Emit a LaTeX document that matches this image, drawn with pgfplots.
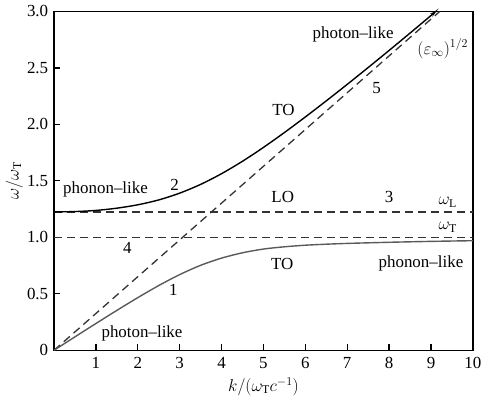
\documentclass[border=0pt]{standalone}
\usepackage{fontspec}
\setmainfont{Liberation Serif}
\usepackage{pgfplots}
\pgfplotsset{compat=1.18}
\usetikzlibrary{arrows.meta}
\definecolor{lowgrey}{HTML}{5A5A5A}
\definecolor{dashgrey}{HTML}{333333}
\pgfplotstableread{
k w
0 0
0.5 0.119
1 0.237
1.5 0.353
2 0.466
2.5 0.573
3 0.670
3.5 0.752
4 0.816
4.5 0.863
5 0.896
5.5 0.916
6 0.930
6.5 0.939
7 0.946
8 0.956
9 0.964
10 0.970
}\lowbranch
\pgfplotstableread{
k w
0 1.225
0.5 1.228
1 1.238
1.5 1.258
2 1.288
2.5 1.331
3 1.391
3.5 1.4685
4 1.5635
4.5 1.6735
5 1.796
5.5 1.9275
6 2.0655
6.5 2.208
7 2.354
7.5 2.503
8 2.6545
8.5 2.808
9 2.9635
9.12 3.0
}\upbranch
\begin{document}
\fontsize{17}{20}\selectfont
\begin{tikzpicture}
\begin{axis}[
  width=419bp, height=339bp, scale only axis,
  xmin=0, xmax=10, ymin=0, ymax=3,
  xtick={1,2,3,4,5,6,7,8,9,10},
  xticklabels={1,2,3,4,5,6,7,8,9,10},
  ytick={0,0.5,1,1.5,2,2.5,3},
  yticklabels={0,0.5,1.0,1.5,2.0,2.5,3.0},
  /pgf/number format/assume math mode=true,
  tick align=inside, xtick pos=bottom, ytick pos=left,
  major tick length=6bp,
  tick style={line width=1.3bp, black},
  axis line style={line width=1.3bp, black},
  xlabel={$k/(\omega_{\mathrm{T}}c^{-1})$},
  ylabel={$\omega/\omega_{\mathrm{T}}$},
  xlabel style={at={(axis description cs:0.5,-0.107)}, anchor=center},
  ylabel style={at={(axis description cs:-0.095,0.5)}, anchor=center, rotate=0},
  xticklabel style={yshift=-1bp},
  clip=false,
]
% dashed lines
\addplot[dashgrey, line width=1.3bp, dash pattern=on 8bp off 5bp] coordinates {(0,1.225) (10,1.225)};
\addplot[dashgrey, line width=1.3bp, dash pattern=on 8bp off 5bp] coordinates {(0,1.0) (10,1.0)};
\addplot[dashgrey, line width=1.3bp, dash pattern=on 8bp off 5bp] coordinates {(0,0) (9.21,3.0)};
% branches
\addplot[lowgrey, line width=1.4bp, smooth] table[x=k,y=w] {\lowbranch};
\addplot[black, line width=1.4bp, smooth, -{Stealth[length=6bp,width=4bp]}] table[x=k,y=w] {\upbranch};
% labels
\node at (axis cs:1.23,1.42) {phonon--like};
\node at (axis cs:2.88,1.46) {2};
\node at (axis cs:5.48,2.125) {TO};
\node at (axis cs:7.14,2.80) {photon--like};
\node at (axis cs:9.28,2.67) {$(\varepsilon_{\infty})^{1/2}$};
\node at (axis cs:7.7,2.32) {5};
\node at (axis cs:5.46,1.36) {LO};
\node at (axis cs:8.0,1.36) {3};
\node at (axis cs:9.4,1.31) {$\omega_{\mathrm{L}}$};
\node at (axis cs:9.4,1.09) {$\omega_{\mathrm{T}}$};
\node at (axis cs:1.75,0.905) {4};
\node at (axis cs:5.45,0.76) {TO};
\node at (axis cs:8.76,0.77) {phonon--like};
\node at (axis cs:2.85,0.535) {1};
\node at (axis cs:2.1,0.15) {photon--like};
\end{axis}
\end{tikzpicture}
\end{document}
